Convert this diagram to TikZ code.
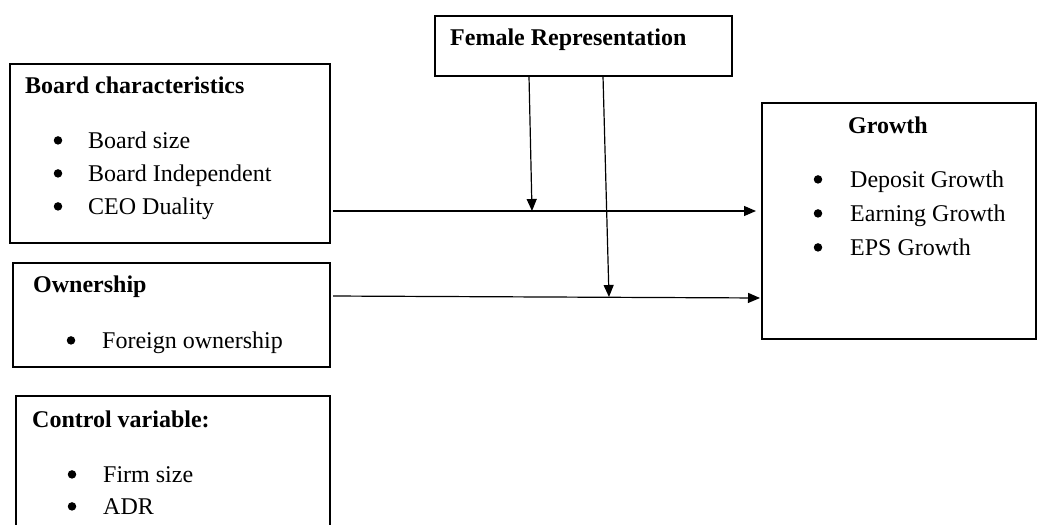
\documentclass[tikz,border=0pt]{standalone}
\usepackage{fontspec}
\setmainfont{Liberation Serif}
\usetikzlibrary{arrows.meta}

\tikzset{
  box/.style={draw, line width=1.2pt, inner sep=0pt, outer sep=0pt},
  ttl/.style={anchor=base west, inner sep=0pt, font=\fontsize{24}{32}\selectfont\bfseries},
  txt/.style={anchor=base west, inner sep=0pt},
  bul/.style={circle, fill, inner sep=0pt, minimum size=8.5pt, yshift=7.6pt},
  link/.style={line width=1.2pt, -{Triangle[length=12pt, width=10pt]}},
}

\begin{document}
\begin{tikzpicture}[x=1pt, y=-1pt, font=\fontsize{24}{32}\selectfont]
\clip (0,0) rectangle (1037,525);

% boxes
\node[box, minimum width=320pt, minimum height=179pt] (board) at (170,153.5) {};
\node[box, minimum width=297pt, minimum height=60pt] (female) at (583.5,46) {};
\node[box, minimum width=274pt, minimum height=236pt] (growth) at (899,221) {};
\node[box, minimum width=317pt, minimum height=104pt] (own) at (171.5,315) {};
\node[box, minimum width=314pt, minimum height=150pt] (ctrl) at (173,471) {};

% titles
\node[ttl] (board-t) at (25,93) {Board characteristics};
\node[ttl] (female-t) at (450,45) {Female Representation};
\node[ttl] (growth-t) at (848,133) {Growth};
\node[ttl] (own-t) at (33,292) {Ownership};
\node[ttl] (ctrl-t) at (32,427) {Control variable:};

% bullet lists
\foreach \t [count=\i] in {Board size, Board Independent, CEO Duality} {
  \node[bul] (board-b\i) at (58,148+33*\i-33) {};
  \node[txt] (board-\i) at (88,148+33*\i-33) {\t};
}
\foreach \t [count=\i] in {Deposit Growth, Earning Growth, EPS Growth} {
  \node[bul] (growth-b\i) at (818,187+34*\i-34) {};
  \node[txt] (growth-\i) at (850,187+34*\i-34) {\t};
}
\node[bul] (own-b1) at (71,348) {};
\node[txt] (own-1) at (102,348) {Foreign ownership};
\foreach \t [count=\i] in {Firm size, ADR} {
  \node[bul] (ctrl-b\i) at (72,482+32*\i-32) {};
  \node[txt] (ctrl-\i) at (103,482+32*\i-32) {\t};
}

% connectors
\coordinate (m1) at (532,211);
\coordinate (m2) at (609,297);
\draw[link, shorten <=3pt, shorten >=6pt] (board.east |- m1) -- (growth.west |- m1);
\draw[link, shorten <=3pt, shorten >=2pt] (own.east |- 0,296) -- (growth.west |- 0,298);
\draw[link] (female.south -| 529,0) -- (m1);
\draw[link] (female.south -| 603,0) -- (m2);
\end{tikzpicture}
\end{document}
